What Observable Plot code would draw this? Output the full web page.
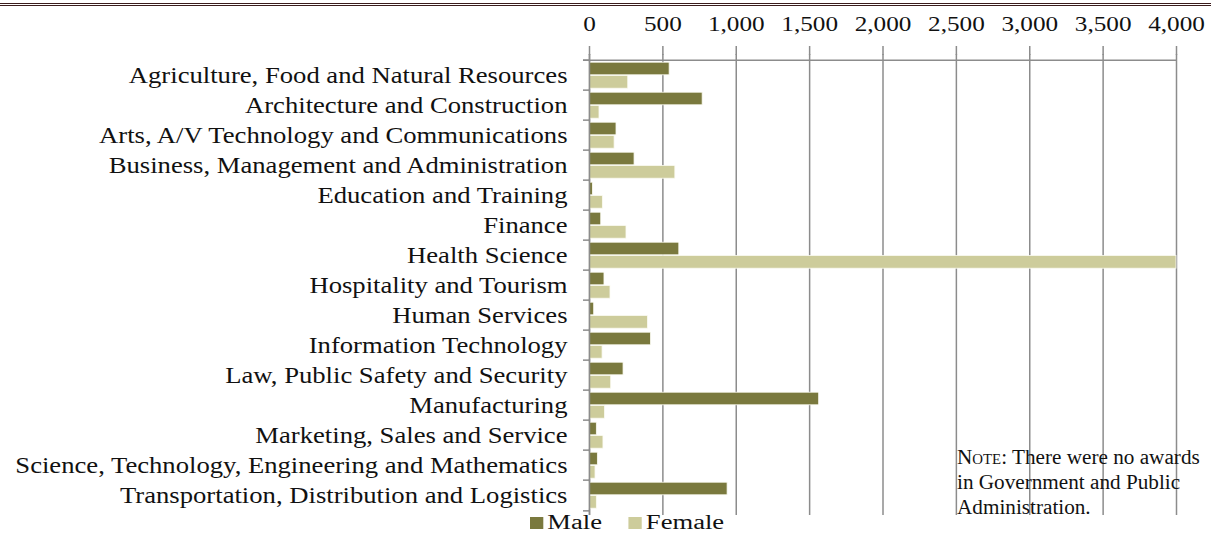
<!DOCTYPE html>
<html>
<head>
<meta charset="utf-8">
<script src="https://cdn.jsdelivr.net/npm/d3@7"></script>
<script src="https://cdn.jsdelivr.net/npm/@observablehq/plot@0.6"></script>
<style>
  html, body { margin: 0; padding: 0; background: #fff; }
  body { width: 1211px; height: 538px; position: relative; font-family: "Liberation Serif", "Times New Roman", serif; }
  #rule { position: absolute; left: 0; top: 3px; width: 1211px; height: 1px; border-top: 1.5px solid #3b1c1c; border-bottom: 1px solid #3b1c1c; }
  #chart { position: absolute; left: 0; top: 0; line-height: 0; }
  #note { position: absolute; left: 957px; top: 445px; font-size: 20px; line-height: 25px; color: #111; transform: scaleX(1.06); transform-origin: left top; white-space: nowrap; }
  #note .sc { font-variant: small-caps; }
  #legend { position: absolute; top: 511px; left: 530px; font-size: 20px; color: #111; display: flex; align-items: center; transform: scaleX(1.33); transform-origin: left center; white-space: nowrap; }
  #legend .sw { display: inline-block; width: 10px; height: 12px; margin-right: 3px; }
</style>
</head>
<body>
<div id="chart"></div>
<div id="rule"></div>
<div id="note"><span class="sc">Note</span>: There were no awards<br>in Government and Public<br>Administration.</div>
<div id="legend"></div>
<script>
const categories = [
  "Agriculture, Food and Natural Resources",
  "Architecture and Construction",
  "Arts, A/V Technology and Communications",
  "Business, Management and Administration",
  "Education and Training",
  "Finance",
  "Health Science",
  "Hospitality and Tourism",
  "Human Services",
  "Information Technology",
  "Law, Public Safety and Security",
  "Manufacturing",
  "Marketing, Sales and Service",
  "Science, Technology, Engineering and Mathematics",
  "Transportation, Distribution and Logistics"
];
const male   = [546, 771, 184, 307, 23, 80, 612, 102, 32, 419, 232, 1565, 50, 57, 941];
const female = [264, 68, 171, 585, 91, 252, 4000, 143, 398, 89, 148, 105, 95, 41, 50];
const series = ["Male", "Female"];
const colors = ["#7a793e", "#cdcc9b"];
const xTicks = [0, 500, 1000, 1500, 2000, 2500, 3000, 3500, 4000];

const rows = categories.map((c, i) => ({category: c, male: male[i], female: female[i]}));
const bandStep = (538 - 54 - 23) / categories.length;
const gridColor = "#8c8c8c";
const font = "Liberation Serif";

const chart = Plot.plot({
  width: 1211,
  height: 538,
  marginLeft: 589,
  marginRight: 35,
  marginTop: 54,
  marginBottom: 23,
  style: {fontFamily: font, color: "#111", background: "transparent", overflow: "visible"},
  x: {domain: [0, 4000], ticks: xTicks, tickFormat: d3.format(",")},
  y: {domain: categories, padding: 0},
  marks: [
    Plot.gridX(xTicks, {stroke: gridColor, strokeOpacity: 1, strokeWidth: 1.5}),
    Plot.axisX({anchor: "top", ticks: xTicks, tickFormat: d3.format(","), tickSize: 9, tickPadding: 15, fontSize: 21, label: null, stroke: gridColor, strokeWidth: 1.5}),
    Plot.axisY({tickSize: 0, tickPadding: 22, fontSize: 24, label: null}),
    // top axis line
    Plot.ruleY([categories[0]], {x1: -41, x2: 4000, dy: -bandStep / 2, stroke: gridColor, strokeWidth: 1.5}),
    // y tick marks at band boundaries
    Plot.ruleY(categories, {x1: -41, x2: 0, dy: -bandStep / 2, stroke: gridColor, strokeWidth: 1.5}),
    Plot.ruleY([categories[categories.length - 1]], {x1: -41, x2: 0, dy: bandStep / 2, stroke: gridColor, strokeWidth: 1.5}),
    Plot.barX(rows, {x: "male", y: "category", fill: colors[0], stroke: "#fbfbf2", strokeWidth: 0.8, insetTop: 2.2, insetBottom: 15.2}),
    Plot.barX(rows, {x: "female", y: "category", fill: colors[1], stroke: "#fbfbf2", strokeWidth: 0.8, insetTop: 15.5, insetBottom: 1.8}),
    Plot.ruleX([0], {stroke: gridColor, strokeWidth: 1.5})
  ]
});
document.getElementById("chart").appendChild(chart);

// widen the serif glyphs horizontally to match the reference typesetting
function stretch(selector, k) {
  chart.querySelectorAll(selector).forEach(t => {
    const w = t.getComputedTextLength();
    t.setAttribute("textLength", (w * k).toFixed(1));
    t.setAttribute("lengthAdjust", "spacingAndGlyphs");
  });
}
stretch('g[aria-label="y-axis tick label"] text', 1.11);
stretch('g[aria-label="x-axis tick label"] text', 1.2);

const legend = document.getElementById("legend");
series.forEach((s, i) => {
  const item = document.createElement("span");
  item.style.display = "inline-flex";
  item.style.alignItems = "center";
  item.style.marginRight = i === 0 ? "20px" : "0";
  const sw = document.createElement("span");
  sw.className = "sw";
  sw.style.background = colors[i];
  item.appendChild(sw);
  item.appendChild(document.createTextNode(s));
  legend.appendChild(item);
});
</script>
</body>
</html>
